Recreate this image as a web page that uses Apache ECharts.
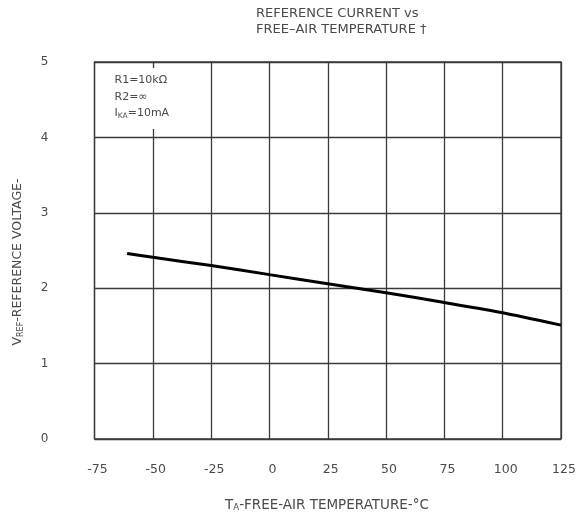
<!DOCTYPE html>
<html><head><meta charset="utf-8">
<script src="https://cdn.jsdelivr.net/npm/echarts@6/dist/echarts.min.js"></script>
<style>html,body{margin:0;padding:0;background:#fff}#c{width:577px;height:519px}</style>
</head><body><div id="c"></div>
<script>
// Data
const temperatures = [-61, -50, -25, 0, 25, 50, 75, 100, 125];
const vref = [2.46, 2.41, 2.30, 2.18, 2.06, 1.94, 1.81, 1.675, 1.51];
const xTickLabels = [-75, -50, -25, 0, 25, 50, 75, 100, 125];
const yTickLabels = [0, 1, 2, 3, 4, 5];
const titleLines = ['REFERENCE CURRENT vs', 'FREE\u2013AIR TEMPERATURE \u2020'];
const annotationLines = ['R1=10k\u03A9', 'R2=\u221E', '{i|I}{s|KA}{i|=10mA}'];

const textColor = '#4a4a4a';
const gridColor = '#3a3a3a';
const font = 'DejaVu Sans';

const chart = echarts.init(document.getElementById('c'), null, {renderer: 'canvas'});
const option = {
  animation: false,
  backgroundColor: '#fff',
  title: {
    text: titleLines.join('\n'),
    left: 251, top: 1,
    textStyle: {fontFamily: font, fontSize: 13, lineHeight: 15.5, fontWeight: 'normal', color: textColor}
  },
  grid: {left: 94.5, right: 16, top: 62, bottom: 80, show: true, borderColor: gridColor, borderWidth: 1.3,
    containLabel: false, outerBoundsMode: 'none'},
  xAxis: {
    type: 'value',
    min: xTickLabels[0], max: xTickLabels[xTickLabels.length - 1],
    interval: xTickLabels[1] - xTickLabels[0],
    axisLine: {show: false}, axisTick: {show: false},
    splitLine: {show: true, lineStyle: {color: gridColor, width: 1.3}},
    axisLabel: {margin: 24, color: textColor, fontFamily: font, fontSize: 12.5, padding: [0, 0, 0, 6]}
  },
  yAxis: {
    type: 'value',
    min: yTickLabels[0], max: yTickLabels[yTickLabels.length - 1],
    interval: yTickLabels[1] - yTickLabels[0],
    axisLine: {show: false}, axisTick: {show: false},
    splitLine: {show: true, lineStyle: {color: gridColor, width: 1.3}},
    axisLabel: {margin: 46, color: textColor, fontFamily: font, fontSize: 12}
  },
  series: [{
    type: 'line',
    data: temperatures.map((t, i) => [t, vref[i]]),
    showSymbol: false, smooth: 0.2,
    lineStyle: {color: '#000', width: 3},
    z: 5
  }],
  graphic: []
};
chart.setOption(option);

// annotation block positioned from data coordinates
const p = chart.convertToPixel({gridIndex: 0}, [-75, 5]);
option.graphic = [
  {type: 'rect', left: p[0] + 12, top: p[1] + 6, shape: {width: 68, height: 61}, style: {fill: '#fff'}, z: 50},
  {type: 'text', left: p[0] + 20, top: p[1] + 10, z: 60,
    style: {text: annotationLines.join('\n'), fill: textColor, font: '11px "' + font + '"', lineHeight: 16.5,
      rich: {i: {fontFamily: font, fontSize: 11, fill: textColor, lineHeight: 16.5},
             s: {fontFamily: font, fontSize: 7.5, fill: textColor, padding: [5, 0, 0, 0], lineHeight: 16.5}}}},
  {type: 'text', x: 18, y: 262, rotation: Math.PI / 2, z: 60,
    style: {text: '{t|V}{s|REF}{t|-REFERENCE VOLTAGE-}', align: 'center', verticalAlign: 'middle',
      rich: {t: {fontFamily: font, fontSize: 12.5, fill: textColor}, s: {fontFamily: font, fontSize: 8, fill: textColor, padding: [5, 0, 0, 0]}}}},
  {type: 'text', x: 327, y: 505, z: 60,
    style: {text: '{t|T}{s|A}{t|-FREE-AIR TEMPERATURE-\u00B0C}', align: 'center', verticalAlign: 'middle',
      rich: {t: {fontFamily: font, fontSize: 13.5, fill: textColor}, s: {fontFamily: font, fontSize: 8.5, fill: textColor, padding: [6, 0, 0, 0]}}}}
];
chart.setOption({graphic: option.graphic});
</script>
</body></html>
